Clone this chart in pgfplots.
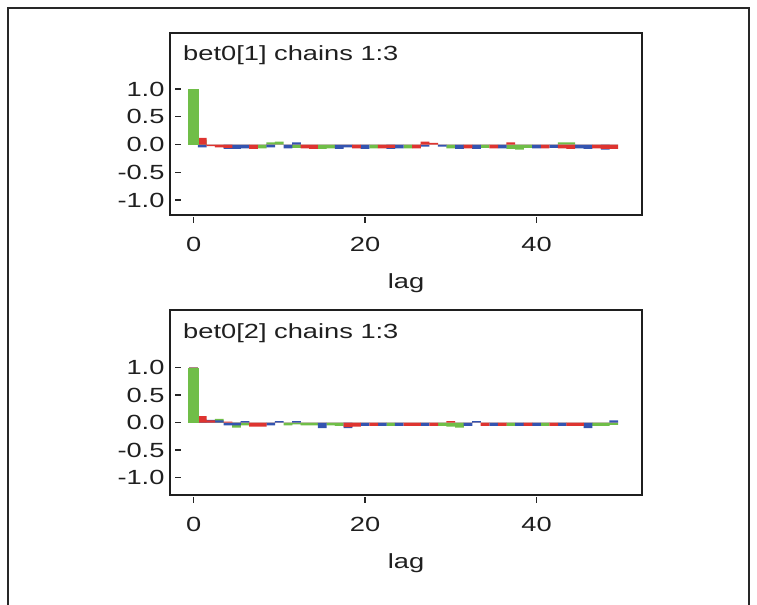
\documentclass[border=0pt]{standalone}
\usepackage{fontspec}
\setmainfont{Liberation Sans}[FakeStretch=1.33]
\usepackage{pgfplots}
\usepackage{pgfplotstable}
\pgfplotsset{compat=1.18}
\definecolor{cR}{RGB}{222,52,48}
\definecolor{cB}{RGB}{52,84,176}
\definecolor{cG}{RGB}{112,190,72}
\definecolor{frm}{RGB}{40,40,40}

\pgfplotstableread{
lag r b g
0 1 1 1
1 0.12 -0.05 0.09
2 -0.03 0 0
3 -0.05 0 0
4 -0.06 -0.08 0
5 0 -0.08 0
6 0 -0.07 0
7 -0.08 0 0
8 0 0 -0.07
9 0 -0.05 0.04
10 0 0 0.05
11 0 -0.07 0
12 0 0.04 -0.06
13 -0.07 0 0
14 -0.08 0 0
15 0 0 -0.08
16 0 0 -0.07
17 0 -0.08 0
18 0 -0.05 0
19 -0.07 0 0
20 0 -0.08 0
21 0 0 -0.07
22 -0.07 0 0
23 -0.06 -0.08 0
24 0 -0.07 0
25 0 0 -0.07
26 -0.07 0 0
27 0.05 -0.04 0
28 0.03 0 0
29 0 -0.04 0
30 0 0 -0.07
31 0 -0.08 0
32 -0.07 0 0
33 0 -0.08 0
34 0 0 -0.06
35 -0.07 0 0
36 0 -0.07 0
37 0.04 0 -0.08
38 0 0 -0.09
39 0 0 -0.06
40 0 -0.07 0
41 -0.07 0 0
42 0 -0.06 0
43 -0.07 0 0.04
44 -0.08 0 0.04
45 0 -0.07 0
46 0 -0.08 0
47 -0.07 0 0
48 -0.08 -0.09 0
49 -0.08 0 0
}\dataA

\pgfplotstableread{
lag r b g
0 1 1 1
1 0.12 0.04 0.06
2 0.04 0.05 0
3 0 0.04 0.07
4 0.02 -0.05 0
5 0 -0.05 -0.09
6 0 0.03 -0.05
7 -0.07 0 0
8 -0.07 0 0
9 0 -0.05 0
10 0 0.03 0
11 0 0 -0.05
12 0 0.03 -0.03
13 0 0 -0.05
14 0 0 -0.05
15 0 -0.1 0
16 0 0 -0.05
17 0 0 -0.06
18 -0.08 -0.1 0
19 -0.07 0 0
20 0 -0.06 0
21 -0.06 0 0
22 0 -0.06 0
23 0 0 -0.06
24 0 -0.06 0
25 -0.06 0 0
26 -0.06 0 0
27 0 -0.06 0
28 -0.06 0 0
29 0 0 -0.06
30 0.03 0 -0.07
31 0 0 -0.09
32 0 -0.06 0
33 0 0.03 0
34 -0.06 0 0
35 0 -0.06 0
36 -0.06 0 0
37 0 0 -0.06
38 0 -0.06 0
39 -0.06 0 0
40 0 -0.06 0
41 0 0 -0.06
42 -0.06 0 0
43 0 -0.06 0
44 -0.06 0 0
45 -0.06 0 0
46 0 -0.1 0
47 0 0 -0.06
48 0 0 -0.06
49 0 0.04 -0.04
}\dataB

\pgfplotsset{
  acfstyle/.style={
    scale only axis,
    width=472bp,
    xmin=-2.75, xmax=52.3,
    xtick={0,20,40}, xticklabels={0,20,40},
    ytick={-1,-0.5,0,0.5,1},
    yticklabels={-1.0,-0.5,0.0,0.5,1.0},
    tick pos=left,
    tick align=outside,
    major tick length=6bp,
    axis line style={line width=2bp, draw=black!88},
    every tick/.style={line width=1.4bp, black!85},
    ytick style={xshift=11bp},
    xtick style={yshift=-2bp},
    tick label style={font=\fontsize{20.5bp}{24bp}\selectfont, text=black!88},
    yticklabel style={anchor=east, xshift=4bp},
    xticklabel style={anchor=base, yshift=-31bp},
    label style={font=\fontsize{20.5bp}{24bp}\selectfont, text=black!88},
    xlabel={lag},
    xlabel style={at={(axis description cs:0.5,0)}, anchor=base, yshift=-74bp},
    clip=true,
  },
  acfbar/.style={ybar, bar width=1.02, bar shift=0pt, draw=none, fill=#1},
}

\begin{document}
\begin{tikzpicture}[x=1bp,y=1bp]
\useasboundingbox (0,0) rectangle (757,605);
\draw[line width=2.3bp, frm] (8,-5) -- (8,597) -- (749,597) -- (749,-5);

\begin{axis}[acfstyle, at={(170bp,390bp)}, anchor=south west,
  height=182bp, ymin=-1.27, ymax=2.01]
  \addplot[acfbar=cG] table[x=lag,y=g]{\dataA};
  \addplot[acfbar=cB] table[x=lag,y=b]{\dataA};
  \addplot[acfbar=cR] table[x=lag,y=r]{\dataA};
  \addplot[acfbar=cG, bar width=1.25, restrict x to domain=0:0] table[x=lag,y=g]{\dataA};
  \node[anchor=base west, font=\fontsize{20.5bp}{24bp}\selectfont, text=black!88, inner sep=0pt]
    at ([xshift=13bp,yshift=-28bp]rel axis cs:0,1) {bet0[1] chains 1:3};
\end{axis}

\begin{axis}[acfstyle, at={(170bp,110bp)}, anchor=south west,
  height=185bp, ymin=-1.316, ymax=2.05]
  \addplot[acfbar=cG] table[x=lag,y=g]{\dataB};
  \addplot[acfbar=cB] table[x=lag,y=b]{\dataB};
  \addplot[acfbar=cR] table[x=lag,y=r]{\dataB};
  \addplot[acfbar=cG, bar width=1.25, restrict x to domain=0:0] table[x=lag,y=g]{\dataB};
  \node[anchor=base west, font=\fontsize{20.5bp}{24bp}\selectfont, text=black!88, inner sep=0pt]
    at ([xshift=13bp,yshift=-29bp]rel axis cs:0,1) {bet0[2] chains 1:3};
\end{axis}
\end{tikzpicture}
\end{document}
